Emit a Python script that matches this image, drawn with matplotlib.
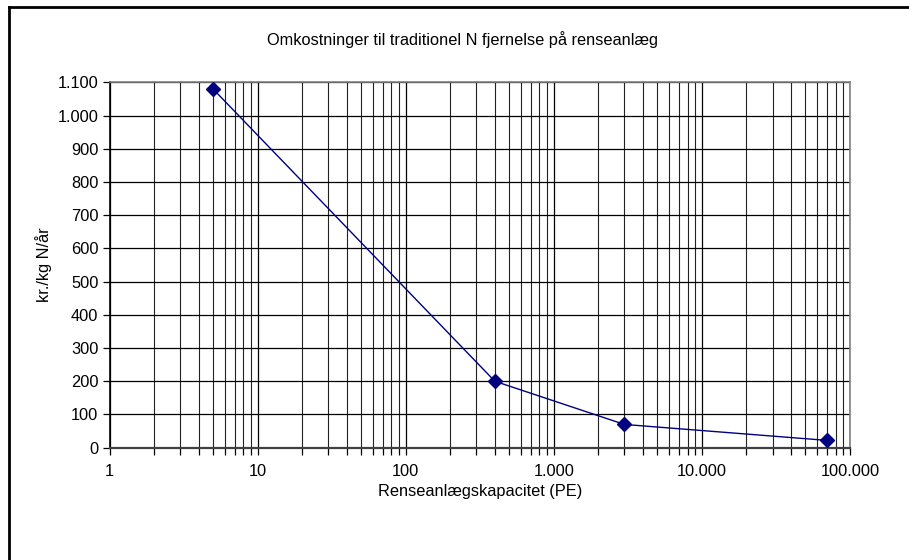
import matplotlib
matplotlib.use("Agg")
import matplotlib.pyplot as plt
from matplotlib.ticker import FixedLocator, FuncFormatter, LogLocator, NullFormatter
from matplotlib.lines import Line2D

plt.rcParams['font.family'] = ['Liberation Sans', 'DejaVu Sans']

capacity_pe = [5, 400, 3000, 70000]
cost_kr_per_kg = [1080, 200, 70, 22]
y_ticks = list(range(0, 1101, 100))
x_ticks = [1, 10, 100, 1000, 10000, 100000]

title = "Omkostninger til traditionel N fjernelse på renseanlæg"
xlabel = "Renseanlægskapacitet (PE)"
ylabel = "kr./kg N/år"

W, H = 909, 560
FS = 11.8
fig = plt.figure(figsize=(W / 100, H / 100), dpi=100)
ax = fig.add_axes([109.5 / W, 1 - 447.7 / H, (850 - 109.5) / W, (447.7 - 82.3) / H])

ax.set_xscale('log')
ax.set_xlim(1, 100000)
ax.set_ylim(0, 1100)

def thousands(v, pos=None):
    return f"{int(round(v)):,}".replace(",", ".")

ax.xaxis.set_major_locator(FixedLocator(x_ticks))
ax.xaxis.set_minor_locator(LogLocator(base=10, subs=range(2, 10), numticks=20))
ax.xaxis.set_major_formatter(FuncFormatter(thousands))
ax.xaxis.set_minor_formatter(NullFormatter())
ax.yaxis.set_major_locator(FixedLocator(y_ticks))
ax.yaxis.set_major_formatter(FuncFormatter(thousands))

ax.grid(True, which='major', axis='both', color='black', linewidth=0.9)
ax.grid(True, which='minor', axis='x', color='#222222', linewidth=0.8)
ax.set_axisbelow(True)

ax.plot(capacity_pe, cost_kr_per_kg, color='#000080', linewidth=1.0,
        marker='D', markersize=7, markerfacecolor='#000080', markeredgecolor='#000080', zorder=3)

for s in ['top', 'right']:
    ax.spines[s].set_color('#808080')
    ax.spines[s].set_linewidth(1.2)
ax.spines['left'].set_color('black')
ax.spines['left'].set_linewidth(1.2)
ax.spines['bottom'].set_color('#404040')
ax.spines['bottom'].set_linewidth(1.6)

ax.tick_params(axis='both', which='major', direction='out', length=5, width=0.9,
               labelsize=FS, colors='black', pad=3)
ax.tick_params(axis='x', which='minor', direction='out', length=5, width=0.9, color='black')
ax.tick_params(axis='x', which='major', pad=7)

ax.set_xlabel(xlabel, fontsize=FS, labelpad=3)
ax.set_ylabel(ylabel, fontsize=FS, labelpad=4)
fig.text(462 / W, 1 - 40 / H, title, ha='center', va='center', fontsize=FS)

# chart area border (left and top visible)
fig.add_artist(Line2D([9 / W, 9 / W], [0, 1 - 6.5 / H], transform=fig.transFigure, color='black', linewidth=2))
fig.add_artist(Line2D([9 / W, 1], [1 - 6.5 / H, 1 - 6.5 / H], transform=fig.transFigure, color='black', linewidth=2))

fig.savefig("out.png", dpi=100)
